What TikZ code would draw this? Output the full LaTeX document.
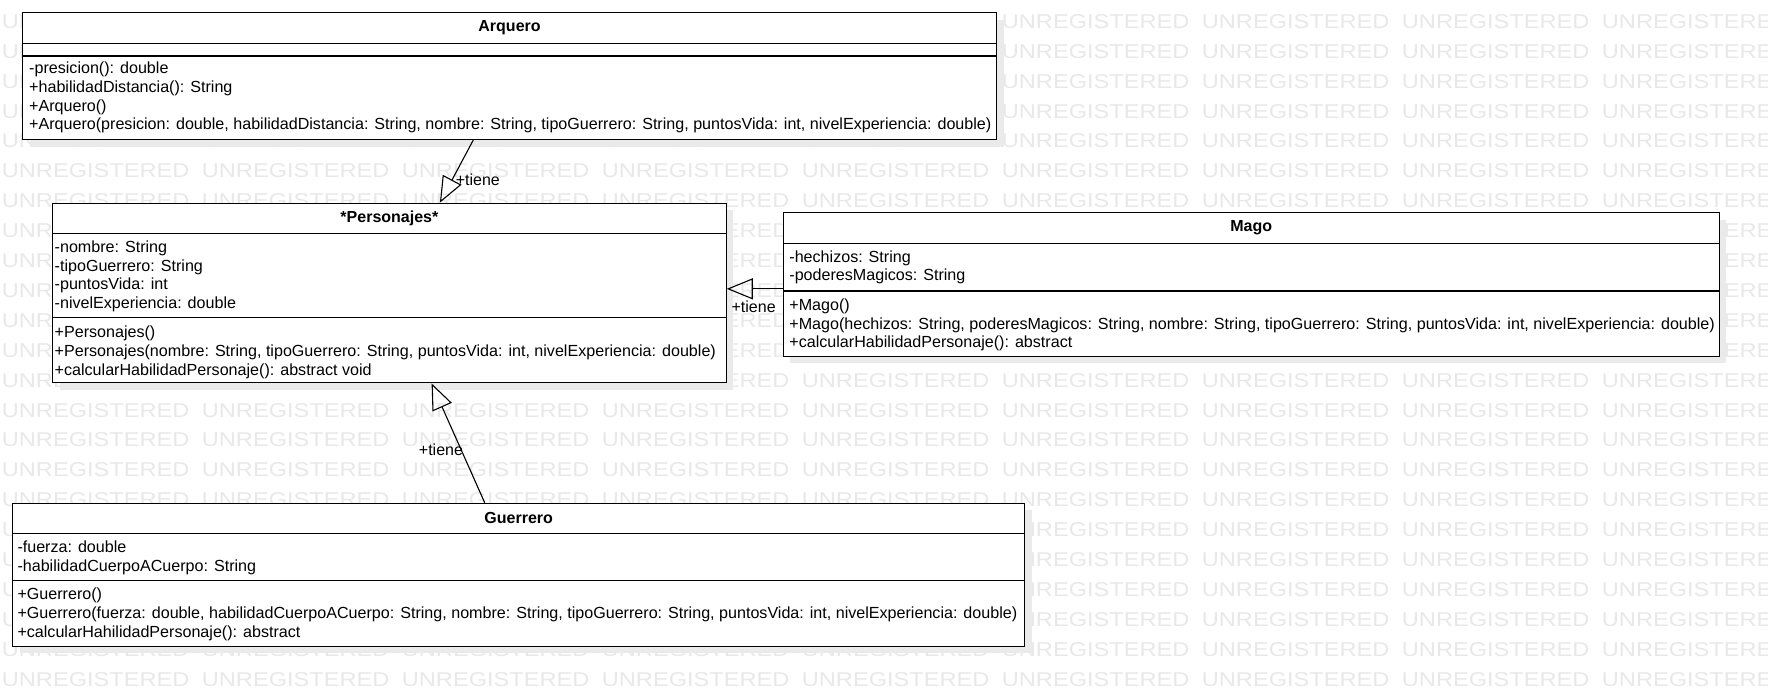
\documentclass[tikz,border=0pt]{standalone}
\usepackage{fontspec}
\setmainfont{Liberation Sans}
\newfontfamily\wmfont[FakeStretch=1.18]{Liberation Sans}
\usetikzlibrary{arrows.meta,shadows}

\definecolor{wmgray}{RGB}{232,232,232}
\definecolor{shadegray}{RGB}{234,234,234}

\begin{document}
\begin{tikzpicture}[x=1pt,y=-1pt]

\tikzset{ClassStyle/.style = {draw, fill=white, line width=1.1pt, inner sep=0pt, anchor=north west,
    drop shadow={shadow xshift=7pt, shadow yshift=-7pt, fill=shadegray, opacity=1}},
  TitleStyle/.style = {font=\fontsize{16pt}{18.8pt}\selectfont\bfseries, inner sep=0pt},
  RowsStyle/.style = {font=\fontsize{16.1pt}{18.8pt}\selectfont, align=left, inner sep=0pt, anchor=base west},
  LabelStyle/.style = {font=\fontsize{16pt}{18.8pt}\selectfont, inner sep=0pt},
  GenStyle/.style = {line width=1.1pt, -{Triangle[open, length=26pt, width=21pt]}},
  MarkStyle/.style = {font={\wmfont\fontsize{20pt}{20pt}\selectfont}, text=wmgray, inner sep=0pt, anchor=west}}

\useasboundingbox (0,0) rectangle (1768,696);

% watermark
\foreach \r in {0,...,22}
  \foreach \c in {0,...,8}
    \node[MarkStyle] (wm-\r-\c) at (1.7+200*\c, 21.5+29.9*\r) {UNREGISTERED};

% Arquero (rows placed by the baseline of their last line)
\node[ClassStyle, minimum width=974pt, minimum height=126.7pt] (arquero) at (22,12.3) {};
\draw[line width=1.1pt] ([yshift=-31pt]arquero.north west) -- ([yshift=-31pt]arquero.north east);
\draw[line width=1.1pt] ([yshift=-43.7pt]arquero.north west) -- ([yshift=-43.7pt]arquero.north east);
\node[TitleStyle] (arqueroT) at ([yshift=-15.5pt]arquero.north) {Arquero};
\node[RowsStyle] (arqueroM) at ([shift={(7pt,-117.6pt)}]arquero.north west) {-presicion(): double\\+habilidadDistancia(): String\\+Arquero()\\+Arquero(presicion: double, habilidadDistancia: String, nombre: String, tipoGuerrero: String, puntosVida: int, nivelExperiencia: double)};

% Personajes
\node[ClassStyle, minimum width=673.7pt, minimum height=179.6pt] (personajes) at (52,202.7) {};
\draw[line width=1.1pt] ([yshift=-30.6pt]personajes.north west) -- ([yshift=-30.6pt]personajes.north east);
\draw[line width=1.1pt] ([yshift=-114.6pt]personajes.north west) -- ([yshift=-114.6pt]personajes.north east);
\node[TitleStyle] (personajesT) at ([yshift=-15.3pt]personajes.north) {*Personajes*};
\node[RowsStyle] (personajesA) at ([shift={(2.5pt,-106pt)}]personajes.north west) {-nombre: String\\-tipoGuerrero: String\\-puntosVida: int\\-nivelExperiencia: double};
\node[RowsStyle] (personajesM) at ([shift={(2.5pt,-172.4pt)}]personajes.north west) {+Personajes()\\+Personajes(nombre: String, tipoGuerrero: String, puntosVida: int, nivelExperiencia: double)\\+calcularHabilidadPersonaje(): abstract void};

% Mago
\node[ClassStyle, minimum width=936pt, minimum height=143.4pt] (mago) at (782.7,212.3) {};
\draw[line width=1.1pt] ([yshift=-31pt]mago.north west) -- ([yshift=-31pt]mago.north east);
\draw[line width=1.1pt] ([yshift=-78.7pt]mago.north west) -- ([yshift=-78.7pt]mago.north east);
\node[TitleStyle] (magoT) at ([yshift=-15.5pt]mago.north) {Mago};
\node[RowsStyle] (magoA) at ([shift={(6.5pt,-68.6pt)}]mago.north west) {-hechizos: String\\-poderesMagicos: String};
\node[RowsStyle] (magoM) at ([shift={(6.5pt,-135.6pt)}]mago.north west) {+Mago()\\+Mago(hechizos: String, poderesMagicos: String, nombre: String, tipoGuerrero: String, puntosVida: int, nivelExperiencia: double)\\+calcularHabilidadPersonaje(): abstract};

% Guerrero
\node[ClassStyle, minimum width=1011.7pt, minimum height=143pt] (guerrero) at (12.3,502.7) {};
\draw[line width=1.1pt] ([yshift=-30.6pt]guerrero.north west) -- ([yshift=-30.6pt]guerrero.north east);
\draw[line width=1.1pt] ([yshift=-78pt]guerrero.north west) -- ([yshift=-78pt]guerrero.north east);
\node[TitleStyle] (guerreroT) at ([yshift=-15.3pt]guerrero.north) {Guerrero};
\node[RowsStyle] (guerreroA) at ([shift={(5pt,-68.3pt)}]guerrero.north west) {-fuerza: double\\-habilidadCuerpoACuerpo: String};
\node[RowsStyle] (guerreroM) at ([shift={(5pt,-134.6pt)}]guerrero.north west) {+Guerrero()\\+Guerrero(fuerza: double, habilidadCuerpoACuerpo: String, nombre: String, tipoGuerrero: String, puntosVida: int, nivelExperiencia: double)\\+calcularHahilidadPersonaje(): abstract};

% generalizations
\draw[GenStyle] ([xshift=-36.3pt]arquero.south) -- node[LabelStyle, pos=0.63, anchor=west, xshift=3pt] (tieneA) {+tiene} ([xshift=50.5pt]personajes.north);
\draw[GenStyle] ([yshift=-4.3pt]mago.west) -- node[LabelStyle, pos=0.52, yshift=-18.4pt] (tieneM) {+tiene} ([yshift=4.2pt]personajes.east);
\draw[GenStyle] ([xshift=-34pt]guerrero.north) -- node[LabelStyle, pos=0.446, anchor=east, xshift=2.5pt] (tieneG) {+tiene} ([xshift=42.2pt]personajes.south);

\end{tikzpicture}
\end{document}
